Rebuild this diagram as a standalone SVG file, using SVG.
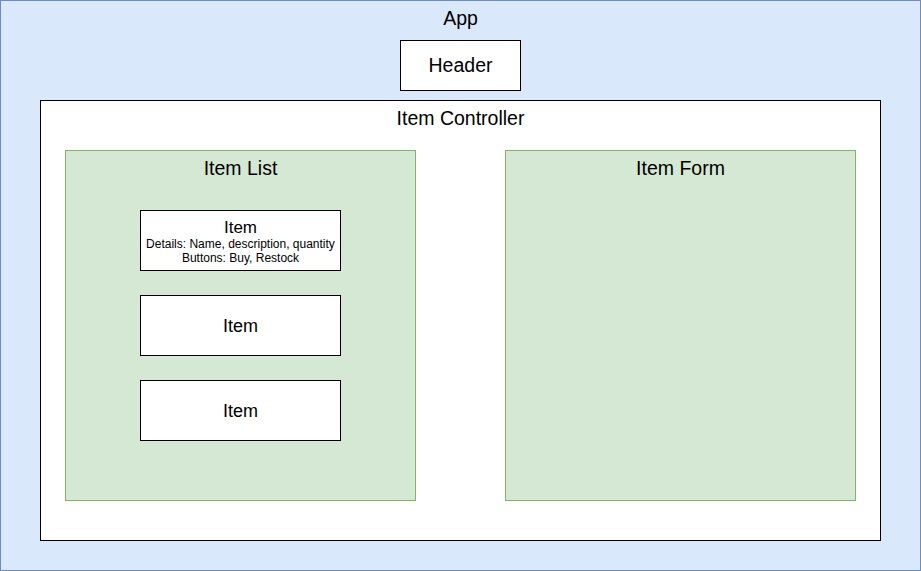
<svg xmlns="http://www.w3.org/2000/svg" width="921" height="571" viewBox="0 0 921 571">
<style>
text{font-family:"Liberation Sans",Arial,sans-serif;fill:#000;text-anchor:middle}
.app{fill:#dae8fc;stroke:#6c8ebf;stroke-width:1}
.w{fill:#fff;stroke:#000;stroke-width:1}
.g{fill:#d5e8d4;stroke:#82b366;stroke-width:1}
.t18{font-size:19.5px}
.t16{font-size:18px}
.t17{font-size:17px}
.t11{font-size:12px}
</style>
<g id="app"><rect class="app" x="0.5" y="0.5" width="920" height="570"/><text class="t18" x="460.5" y="25">App</text></g>
<g id="header"><rect class="w" x="400.5" y="40.5" width="120" height="50"/><text class="t18" x="460.5" y="72">Header</text></g>
<g id="item-controller"><rect class="w" x="40.5" y="100.5" width="840" height="440"/><text class="t18" x="460.5" y="125">Item Controller</text></g>
<g id="item-list"><rect class="g" x="65.5" y="150.5" width="350" height="350"/><text class="t18" x="240.5" y="175">Item List</text></g>
<g id="item-form"><rect class="g" x="505.5" y="150.5" width="350" height="350"/><text class="t18" x="680.5" y="175">Item Form</text></g>
<g id="item1"><rect class="w" x="140.5" y="210.5" width="200" height="60"/><text class="t17" x="240.5" y="233">Item</text><text class="t11" x="240.5" y="248">Details: Name, description, quantity</text><text class="t11" x="240.5" y="262">Buttons: Buy, Restock</text></g>
<g id="item2"><rect class="w" x="140.5" y="295.5" width="200" height="60"/><text class="t16" x="240.5" y="332">Item</text></g>
<g id="item3"><rect class="w" x="140.5" y="380.5" width="200" height="60"/><text class="t16" x="240.5" y="417">Item</text></g>
<g id="connectors"/>
</svg>
